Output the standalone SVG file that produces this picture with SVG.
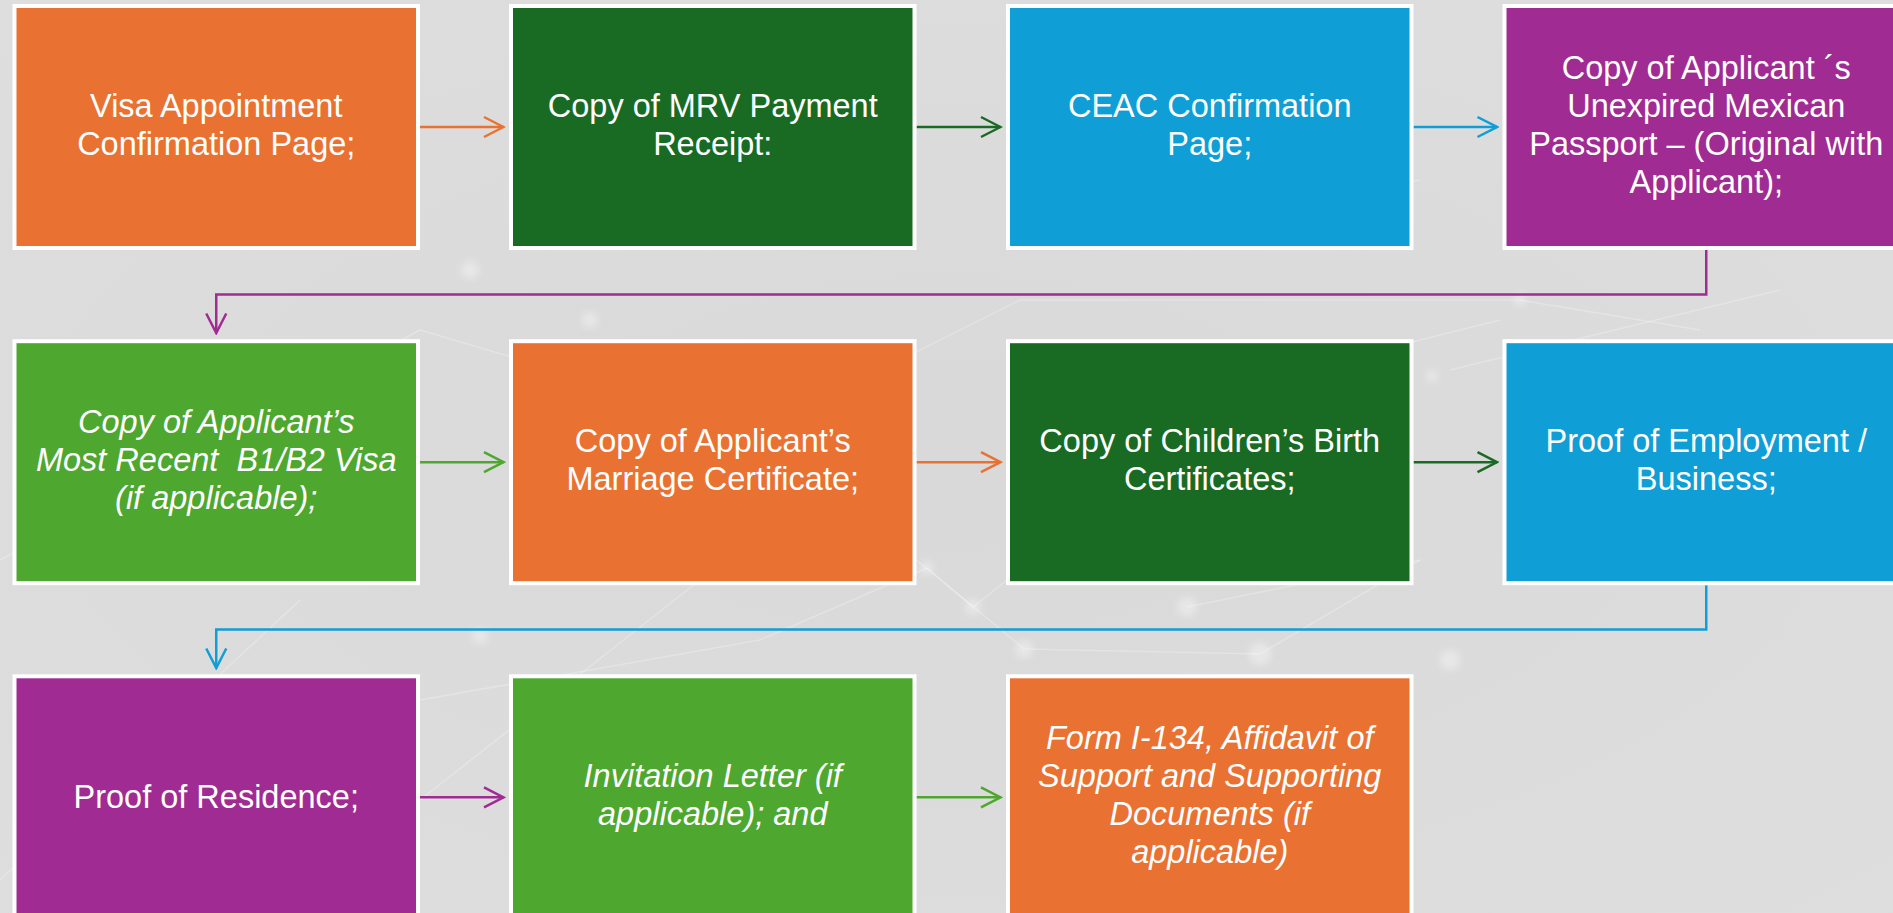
<svg xmlns="http://www.w3.org/2000/svg" width="1893" height="913" viewBox="0 0 1893 913">
<defs>
<radialGradient id="bg" cx="0.5" cy="0.5" r="0.75">
<stop offset="0" stop-color="#d9d9d9"/>
<stop offset="1" stop-color="#dedede"/>
</radialGradient>
<filter id="blur" x="-50%" y="-50%" width="200%" height="200%"><feGaussianBlur stdDeviation="3.5"/></filter>
<marker id="m-orange" viewBox="-24 -12 26 24" markerWidth="26" markerHeight="24" refX="0" refY="0" orient="auto" markerUnits="userSpaceOnUse"><path d="M-19.5,-10 L0,0 L-19.5,10" fill="none" stroke="#E97132" stroke-width="2.5"/></marker>
<marker id="m-dgreen" viewBox="-24 -12 26 24" markerWidth="26" markerHeight="24" refX="0" refY="0" orient="auto" markerUnits="userSpaceOnUse"><path d="M-19.5,-10 L0,0 L-19.5,10" fill="none" stroke="#196B24" stroke-width="2.5"/></marker>
<marker id="m-blue" viewBox="-24 -12 26 24" markerWidth="26" markerHeight="24" refX="0" refY="0" orient="auto" markerUnits="userSpaceOnUse"><path d="M-19.5,-10 L0,0 L-19.5,10" fill="none" stroke="#0F9ED5" stroke-width="2.5"/></marker>
<marker id="m-purple" viewBox="-24 -12 26 24" markerWidth="26" markerHeight="24" refX="0" refY="0" orient="auto" markerUnits="userSpaceOnUse"><path d="M-19.5,-10 L0,0 L-19.5,10" fill="none" stroke="#A02B93" stroke-width="2.5"/></marker>
<marker id="m-lgreen" viewBox="-24 -12 26 24" markerWidth="26" markerHeight="24" refX="0" refY="0" orient="auto" markerUnits="userSpaceOnUse"><path d="M-19.5,-10 L0,0 L-19.5,10" fill="none" stroke="#4EA72E" stroke-width="2.5"/></marker>
</defs>
<style>
.box{stroke:#ffffff;stroke-width:4}
.orange{fill:#E97132}
.dgreen{fill:#196B24}
.blue{fill:#0F9ED5}
.purple{fill:#A02B93}
.lgreen{fill:#4EA72E}
.t{font-family:"Liberation Sans",Arial,sans-serif;font-size:32.5px;fill:#ffffff;text-anchor:middle}
.i{font-style:italic}
.c{fill:none;stroke-width:2.5}
.net line{stroke:#ffffff;stroke-opacity:0.25;stroke-width:1.5}
.net circle{fill:#ffffff;fill-opacity:0.35;filter:url(#blur)}
</style>
<rect x="0" y="0" width="1893" height="913" fill="url(#bg)"/>
<g class="net">
<line x1="0" y1="560" x2="420" y2="330"/>
<line x1="420" y1="330" x2="760" y2="430"/>
<line x1="760" y1="430" x2="973" y2="607"/>
<line x1="927" y1="568" x2="1024" y2="649"/>
<line x1="973" y1="607" x2="1260" y2="380"/>
<line x1="1260" y1="380" x2="1500" y2="320"/>
<line x1="1024" y1="649" x2="1260" y2="654"/>
<line x1="1260" y1="654" x2="1420" y2="560"/>
<line x1="1187" y1="607" x2="1420" y2="560"/>
<line x1="760" y1="430" x2="1020" y2="300"/>
<line x1="1020" y1="300" x2="1520" y2="300"/>
<line x1="1520" y1="300" x2="1700" y2="330"/>
<line x1="1450" y1="370" x2="1780" y2="290"/>
<line x1="420" y1="700" x2="760" y2="640"/>
<line x1="760" y1="640" x2="927" y2="568"/>
<line x1="420" y1="800" x2="700" y2="580"/>
<line x1="0" y1="880" x2="300" y2="600"/>
<line x1="1100" y1="230" x2="1420" y2="180"/>
<circle cx="927" cy="568" r="7"/>
<circle cx="973" cy="607" r="8"/>
<circle cx="1024" cy="649" r="9"/>
<circle cx="1187" cy="607" r="10"/>
<circle cx="1260" cy="654" r="11"/>
<circle cx="760" cy="430" r="7"/>
<circle cx="1260" cy="380" r="6"/>
<circle cx="1520" cy="300" r="6"/>
<circle cx="1432" cy="376" r="6"/>
<circle cx="470" cy="270" r="9"/>
<circle cx="590" cy="320" r="8"/>
<circle cx="480" cy="636" r="8"/>
<circle cx="1450" cy="660" r="10"/>
</g>
<g id="connectors">
<line class="c" x1="420" y1="127" x2="503.5" y2="127" stroke="#E97132" marker-end="url(#m-orange)"/>
<line class="c" x1="916.5" y1="127" x2="1000.5" y2="127" stroke="#196B24" marker-end="url(#m-dgreen)"/>
<line class="c" x1="1413.5" y1="127" x2="1497" y2="127" stroke="#0F9ED5" marker-end="url(#m-blue)"/>
<path class="c" d="M1706.25,250 V294.5 H216.25 V333" stroke="#A02B93" marker-end="url(#m-purple)"/>
<line class="c" x1="420" y1="462.2" x2="503.5" y2="462.2" stroke="#4EA72E" marker-end="url(#m-lgreen)"/>
<line class="c" x1="916.5" y1="462.2" x2="1000.5" y2="462.2" stroke="#E97132" marker-end="url(#m-orange)"/>
<line class="c" x1="1413.5" y1="462.2" x2="1497" y2="462.2" stroke="#196B24" marker-end="url(#m-dgreen)"/>
<path class="c" d="M1706.25,585.2 V629.5 H216.25 V668" stroke="#0F9ED5" marker-end="url(#m-blue)"/>
<line class="c" x1="420" y1="797.3" x2="503.5" y2="797.3" stroke="#A02B93" marker-end="url(#m-purple)"/>
<line class="c" x1="916.5" y1="797.3" x2="1000.5" y2="797.3" stroke="#4EA72E" marker-end="url(#m-lgreen)"/>
</g>
<g id="n1"><rect class="box orange" x="14.5" y="6" width="403.5" height="242"/>
<text class="t"><tspan x="216.25" y="117">Visa Appointment</tspan><tspan x="216.25" y="155">Confirmation Page;</tspan></text></g>
<g id="n2"><rect class="box dgreen" x="511" y="6" width="403.5" height="242"/>
<text class="t"><tspan x="712.75" y="117">Copy of MRV Payment</tspan><tspan x="712.75" y="155">Receipt:</tspan></text></g>
<g id="n3"><rect class="box blue" x="1008" y="6" width="403.5" height="242"/>
<text class="t"><tspan x="1209.75" y="117">CEAC Confirmation</tspan><tspan x="1209.75" y="155">Page;</tspan></text></g>
<g id="n4"><rect class="box purple" x="1504.5" y="6" width="403.5" height="242"/>
<text class="t"><tspan x="1706.25" y="79">Copy of Applicant ´s</tspan><tspan x="1706.25" y="117">Unexpired Mexican</tspan><tspan x="1706.25" y="155">Passport – (Original with</tspan><tspan x="1706.25" y="193">Applicant);</tspan></text></g>
<g id="n5"><rect class="box lgreen" x="14.5" y="341.2" width="403.5" height="242"/>
<text class="t i"><tspan x="216.25" y="433.2">Copy of Applicant’s</tspan><tspan x="216.25" y="471.2">Most Recent&#160; B1/B2 Visa</tspan><tspan x="216.25" y="509.2">(if applicable);</tspan></text></g>
<g id="n6"><rect class="box orange" x="511" y="341.2" width="403.5" height="242"/>
<text class="t"><tspan x="712.75" y="452.2">Copy of Applicant’s</tspan><tspan x="712.75" y="490.2">Marriage Certificate;</tspan></text></g>
<g id="n7"><rect class="box dgreen" x="1008" y="341.2" width="403.5" height="242"/>
<text class="t"><tspan x="1209.75" y="452.2">Copy of Children’s Birth</tspan><tspan x="1209.75" y="490.2">Certificates;</tspan></text></g>
<g id="n8"><rect class="box blue" x="1504.5" y="341.2" width="403.5" height="242"/>
<text class="t"><tspan x="1706.25" y="452.2">Proof of Employment /</tspan><tspan x="1706.25" y="490.2">Business;</tspan></text></g>
<g id="n9"><rect class="box purple" x="14.5" y="676.3" width="403.5" height="242"/>
<text class="t"><tspan x="216.25" y="807.5">Proof of Residence;</tspan></text></g>
<g id="n10"><rect class="box lgreen" x="511" y="676.3" width="403.5" height="242"/>
<text class="t i"><tspan x="712.75" y="787.3">Invitation Letter (if</tspan><tspan x="712.75" y="825.3">applicable); and</tspan></text></g>
<g id="n11"><rect class="box orange" x="1008" y="676.3" width="403.5" height="242"/>
<text class="t i"><tspan x="1209.75" y="749.3">Form I-134, Affidavit of</tspan><tspan x="1209.75" y="787.3">Support and Supporting</tspan><tspan x="1209.75" y="825.3">Documents (if</tspan><tspan x="1209.75" y="863.3">applicable)</tspan></text></g>
</svg>
